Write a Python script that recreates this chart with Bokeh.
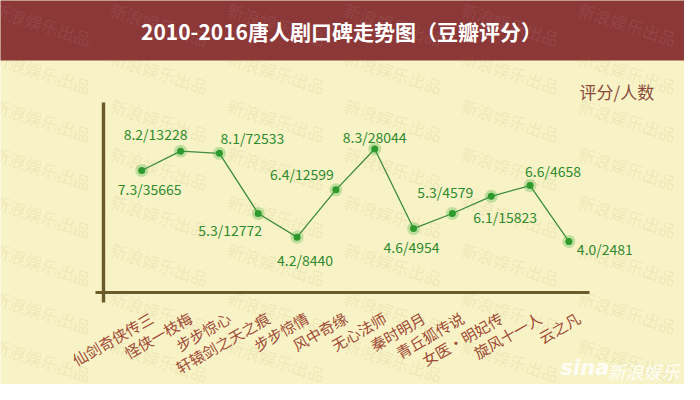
from bokeh.plotting import figure
from bokeh.models import ColumnDataSource, Range1d, BoxAnnotation, Label
from bokeh.core.properties import value
from bokeh.embed import file_html
from bokeh.resources import INLINE

# ---- data ----
titles = ["仙剑奇侠传三", "怪侠一枝梅", "步步惊心", "轩辕剑之天之痕", "步步惊情", "风中奇缘",
          "无心法师", "秦时明月", "青丘狐传说", "女医·明妃传", "旋风十一人", "云之凡"]
scores = [7.3, 8.2, 8.1, 5.3, 4.2, 6.4, 8.3, 4.6, 5.3, 6.1, 6.6, 4.0]
votes = [35665, 13228, 72533, 12772, 8440, 12599, 28044, 4954, 4579, 15823, 4658, 2481]

# ---- label placement (pixels, relative to each point; y down) ----
label_dx = [8, -25, 33, -28, 8, -34, 0, -2, -7, 14, 23, 36]
label_dy = [18, -17, -15, 16, 23, -16, -12, 18, -22, 21, -15, 8]

W, H = 684, 384
X0, X1 = -3.637, 13.978   # x data range across the canvas
Y0, Y1 = -2.653, 15.207   # y data range across the canvas

CJK = "Noto Sans CJK SC"
BG = "#F8F3C6"
BAR = "#8C3838"
AXIS = "#6B5A2A"
GREEN = "#2F8A2F"


def sx(cx):          # canvas px -> screen units (frame = canvas)
    return cx


def sy(cy):
    return H - cy


# score level at which the horizontal axis line sits (canvas y = 292)
AXIS_V = Y0 + (H - 292) / H * (Y1 - Y0)

idx = list(range(len(titles)))
src = ColumnDataSource(dict(
    x=idx, y=scores,
    lab=[f"{s:.1f}/{v}" for s, v in zip(scores, votes)],
    dx=label_dx, dy=label_dy,
))
cat_src = ColumnDataSource(dict(x=idx, y=[AXIS_V] * len(idx), name=titles))

p = figure(width=W, height=H, output_backend="svg", toolbar_location=None, title=None,
           x_range=Range1d(X0, X1), y_range=Range1d(Y0, Y1),
           min_border=0, x_axis_type=None, y_axis_type=None)
p.background_fill_color = BG
p.border_fill_color = BG
p.outline_line_color = None
p.grid.visible = False


def box(l, r, t, b, color, level="annotation"):
    return BoxAnnotation(left=sx(l), right=sx(r), top=sy(t), bottom=sy(b),
                         left_units="screen", right_units="screen",
                         top_units="screen", bottom_units="screen",
                         fill_color=color, fill_alpha=1, line_color=None, level=level)


# title bar
p.add_layout(box(-2, W + 2, -2, 60, BAR, level="underlay"))

# watermark tiles
for i in range(-1, 7):
    for j in range(0, 9):
        x0 = -3 + 117 * i
        y0 = -4 + 48 * j
        in_bar = y0 < 20
        p.add_layout(Label(x=sx(x0), y=sy(y0), x_units="screen", y_units="screen",
                           text="新浪娱乐出品", angle=-0.31, text_align="left",
                           text_baseline="top", text_font=CJK, text_font_size="17px",
                           text_color="#FFFFFF" if in_bar else "#8C7630",
                           text_alpha=0.08 if in_bar else 0.10, level="underlay"))

# axis lines
p.add_layout(box(95, 589, 290.4, 293.6, AXIS))
p.add_layout(box(101.3, 104.7, 102, 302, AXIS))

# category labels along the horizontal axis
p.text("x", "y", text="name", source=cat_src, angle=0.52, x_offset=10, y_offset=24,
       text_align="right", text_baseline="middle", text_font=value(CJK),
       text_font_size="15px", text_color="#9E4A36")

# line and points
p.line("x", "y", source=src, line_color="#3C8C3C", line_width=1.3)
p.scatter("x", "y", source=src, size=13, fill_color="#3FAF3F", fill_alpha=0.3, line_color=None)
p.scatter("x", "y", source=src, size=7, fill_color="#2E9A2E", line_color=None)
p.text("x", "y", text="lab", source=src, x_offset="dx", y_offset="dy",
       text_align="center", text_baseline="middle", text_font=value(CJK),
       text_font_size="14px", text_color=GREEN)

# title and captions
p.add_layout(Label(x=sx(341), y=sy(30), x_units="screen", y_units="screen",
                   text="2010-2016唐人剧口碑走势图（豆瓣评分）", text_align="center",
                   text_baseline="middle", text_font=CJK, text_font_style="bold",
                   text_font_size="21px", text_color="#FFFFFF"))
p.add_layout(Label(x=sx(579), y=sy(91), x_units="screen", y_units="screen",
                   text="评分/人数", text_align="left", text_baseline="middle",
                   text_font=CJK, text_font_size="17px", text_color="#8A4B3C"))
p.add_layout(Label(x=sx(560), y=sy(367), x_units="screen", y_units="screen",
                   text="sina", text_align="left", text_baseline="middle",
                   text_font="DejaVu Sans", text_font_style="bold italic",
                   text_font_size="21px", text_color="#FFFFFF", text_alpha=0.85))
p.add_layout(Label(x=sx(607), y=sy(370), x_units="screen", y_units="screen",
                   text="新浪娱乐", text_align="left", text_baseline="middle",
                   text_font=CJK, text_font_style="italic",
                   text_font_size="18px", text_color="#FFFFFF", text_alpha=0.85))

open("out.html", "w").write(file_html(p, INLINE))
